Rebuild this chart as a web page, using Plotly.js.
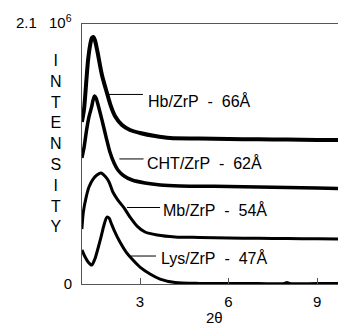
<!DOCTYPE html>
<html>
<head>
<meta charset="utf-8">
<script src="https://cdn.plot.ly/plotly-3.0.1.min.js"></script>
<style>html,body{margin:0;padding:0;background:#fff;}#chart{width:338px;height:326px;}</style>
</head>
<body>
<div id="chart"></div>
<script>
// 2-theta values and intensities (units of 10^6 counts)
const hbX = [1.03,1.10,1.17,1.24,1.31,1.37,1.42,1.47,1.56,1.71,1.88,2.01,2.15,2.39,2.66,3.00,3.51,4.02,5.0,6.0,7.0,8.0,9.0,9.71];
const hbY = [1.309,1.405,1.607,1.809,1.930,1.987,1.995,1.971,1.874,1.688,1.543,1.438,1.357,1.284,1.244,1.220,1.195,1.179,1.175,1.171,1.169,1.167,1.163,1.163];

const chtX = [1.03,1.10,1.19,1.27,1.36,1.41,1.46,1.51,1.58,1.71,1.85,1.98,2.12,2.25,2.46,2.73,3.17,3.69,4.36,5.0,6.0,7.0,8.0,9.0,9.71];
const chtY = [1.018,1.098,1.244,1.349,1.430,1.486,1.518,1.502,1.446,1.325,1.187,1.066,0.977,0.921,0.872,0.840,0.816,0.800,0.792,0.790,0.788,0.783,0.779,0.775,0.771];

const mbX = [1.03,1.08,1.17,1.27,1.41,1.54,1.68,1.81,1.95,2.08,2.25,2.46,2.66,2.90,3.17,3.58,4.19,5.03,6.0,7.0,8.0,9.0,9.71];
const mbY = [0.444,0.582,0.695,0.783,0.848,0.880,0.897,0.872,0.824,0.743,0.678,0.614,0.541,0.468,0.420,0.396,0.380,0.376,0.372,0.369,0.367,0.365,0.363];

const lysX = [1.03,1.14,1.24,1.36,1.47,1.58,1.68,1.78,1.88,1.95,2.02,2.12,2.32,2.53,2.73,3.00,3.34,3.68,4.19,5.03,6.0,7.0,7.9,7.98,8.06,9.0,9.71];
const lysY = [0.275,0.218,0.178,0.153,0.202,0.291,0.380,0.477,0.541,0.533,0.493,0.436,0.339,0.258,0.202,0.137,0.081,0.040,0.012,0.005,0.004,0.004,0.004,0.012,0.004,0.004,0.004];

const seriesLabels = ["Hb/ZrP\u00a0 -\u00a0 66Å", "CHT/ZrP\u00a0 -\u00a0 62Å", "Mb/ZrP\u00a0 -\u00a0 54Å", "Lys/ZrP\u00a0 -\u00a0 47Å"];
const xTickVals = [3, 6, 9];
const xTickText = ["3", "6", "9"];
const yTickVals = [0];
const yTickText = ["0"];
const yTopLabel = "2.1";
const yExponent = "10<sup>6</sup>";

// label placement (layout only)
const labelPos = [
  {tx: 3.19, ty: 1.482, lx0: 1.88, lx1: 3.10, ly: 1.531},
  {tx: 3.16, ty: 0.981, lx0: 2.30, lx1: 3.12, ly: 1.010},
  {tx: 3.70, ty: 0.598, lx0: 2.56, lx1: 3.68, ly: 0.618},
  {tx: 3.66, ty: 0.210, lx0: 2.69, lx1: 3.54, ly: 0.226}
];
const widths = [4, 3.5, 3, 3];
const xs = [hbX, chtX, mbX, lysX];
const ys = [hbY, chtY, mbY, lysY];

const traces = xs.map((x, i) => ({
  x: x, y: ys[i], type: 'scatter', mode: 'lines',
  line: {color: '#000', width: widths[i], shape: 'spline', smoothing: 0.8},
  hoverinfo: 'skip', showlegend: false
}));

const font = {family: 'Liberation Sans, Arial, sans-serif', color: '#000'};
const annotations = seriesLabels.map((t, i) => ({
  x: labelPos[i].tx, y: labelPos[i].ty, xref: 'x', yref: 'y',
  text: t, showarrow: false, xanchor: 'left', yanchor: 'middle',
  font: Object.assign({size: 16}, font)
}));
annotations.push({
  x: -0.1035, y: 0.54, xref: 'paper', yref: 'paper', text: 'I<br>N<br>T<br>E<br>N<br>S<br>I<br>T<br>Y',
  showarrow: false, xanchor: 'center', yanchor: 'middle', font: Object.assign({size: 16}, font)
});
annotations.push({
  x: 0.516, y: -0.13, xref: 'paper', yref: 'paper', text: '2θ',
  showarrow: false, xanchor: 'center', yanchor: 'middle', font: Object.assign({size: 15}, font)
});
annotations.push({
  x: -0.168, y: 0.966, xref: 'paper', yref: 'paper', text: yTopLabel,
  showarrow: false, xanchor: 'right', yanchor: 'bottom', font: Object.assign({size: 15}, font)
});
annotations.push({
  x: -0.137, y: 0.966, xref: 'paper', yref: 'paper', text: yExponent,
  showarrow: false, xanchor: 'left', yanchor: 'bottom', font: Object.assign({size: 15}, font)
});
const shapes = labelPos.map(p => ({
  type: 'line', xref: 'x', yref: 'y', x0: p.lx0, x1: p.lx1, y0: p.ly, y1: p.ly,
  line: {color: '#000', width: 1}
}));

const layout = {
  width: 338, height: 326,
  margin: {l: 82, r: 0, t: 24, b: 42},
  paper_bgcolor: '#fff', plot_bgcolor: '#fff',
  font: font,
  xaxis: {
    range: [1.034, 9.71], tickmode: 'array', tickvals: xTickVals, ticktext: xTickText,
    ticks: 'inside', ticklen: 6, tickcolor: '#555', tickwidth: 1,
    showline: true, linecolor: '#555', linewidth: 1, mirror: true,
    showgrid: false, zeroline: false, ticklabelstandoff: 4,
    tickfont: Object.assign({size: 15}, font)
  },
  yaxis: {
    range: [0, 2.1], tickmode: 'array', tickvals: yTickVals, ticktext: yTickText,
    ticks: '', showline: true, linecolor: '#555', linewidth: 1,
    showgrid: false, zeroline: false, ticklabelstandoff: 6,
    tickfont: Object.assign({size: 15}, font)
  },
  annotations: annotations,
  shapes: shapes
};

Plotly.newPlot('chart', traces, layout, {staticPlot: true, displayModeBar: false});
</script>
</body>
</html>
